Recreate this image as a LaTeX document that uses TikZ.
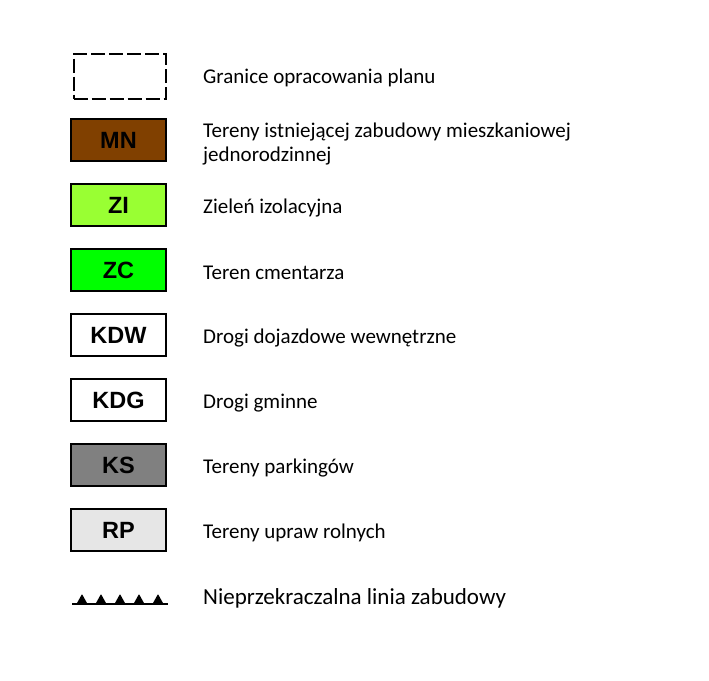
\documentclass[tikz,border=0pt]{standalone}
\usepackage{fontspec}
\setmainfont{Carlito}
\newfontfamily\arialb{Liberation Sans}[BoldFont={Liberation Sans Bold}]
\definecolor{cMN}{RGB}{128,64,0}
\definecolor{cZI}{RGB}{153,255,51}
\definecolor{cZC}{RGB}{0,255,0}
\definecolor{cKS}{RGB}{128,128,128}
\definecolor{cRP}{RGB}{230,230,230}
\begin{document}
\begin{tikzpicture}[x=1pt,y=-1pt,
  legbox/.style={draw=black,line width=2pt,minimum width=95pt,minimum height=42pt,inner sep=0pt,font=\arialb\bfseries\fontsize{23.5}{26}\selectfont},
  legtext/.style={anchor=west,inner sep=0pt,align=left,font=\fontsize{21}{24}\selectfont}]
\useasboundingbox[fill=white] (0,0) rectangle (709,680);
% boundary
\node[draw=black,line width=2pt,dash pattern=on 14pt off 4pt,minimum width=92pt,minimum height=45pt,inner sep=0pt] (gr) at (119.5,76) {};
\node[legtext] (tgr) at (203,78) {Granice opracowania planu};
\node[legbox,fill=cMN] (mn) at (118.5,140) {MN};
\node[legtext] (tmn) at (203,144) {Tereny istniejącej zabudowy mieszkaniowej\\jednorodzinnej};
\node[legbox,fill=cZI] (zi) at (118.5,205) {ZI};
\node[legtext] (tzi) at (203,208) {Zieleń izolacyjna};
\node[legbox,fill=cZC] (zc) at (118.5,270) {ZC};
\node[legtext] (tzc) at (203,273) {Teren cmentarza};
\node[legbox,fill=white] (kdw) at (118.5,335) {KDW};
\node[legtext] (tkdw) at (203,338) {Drogi dojazdowe wewnętrzne};
\node[legbox,fill=white] (kdg) at (118.5,400) {KDG};
\node[legtext] (tkdg) at (203,403) {Drogi gminne};
\node[legbox,fill=cKS] (ks) at (118.5,465) {KS};
\node[legtext] (tks) at (203,468) {Tereny parkingów};
\node[legbox,fill=cRP] (rp) at (118.5,530) {RP};
\node[legtext] (trp) at (203,533) {Tereny upraw rolnych};
% building line
\coordinate (la) at (72,604);
\coordinate (lb) at (168,604);
\draw[line width=1.5pt] (la) -- (lb);
\foreach \cx in {82,101,120,139,158}{
  \fill[black,rounded corners=0.8pt] (\cx-5.5,604) -- (\cx,594) -- (\cx+5.5,604) -- cycle;
}
\node[legtext,font=\fontsize{23}{26}\selectfont] (tnl) at (203,598) {Nieprzekraczalna linia zabudowy};
\end{tikzpicture}
\end{document}
